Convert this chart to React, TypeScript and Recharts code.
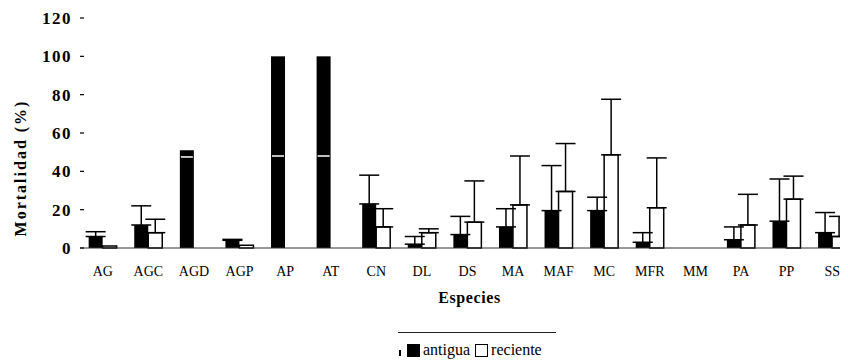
import React from "react";
import { BarChart, Bar, XAxis, YAxis, ErrorBar, Legend } from "recharts";

const especies = ["AG", "AGC", "AGD", "AGP", "AP", "AT", "CN", "DL", "DS", "MA", "MAF", "MC", "MFR", "MM", "PA", "PP", "SS"];
const antigua = [6, 12, 51, 4, 100, 100, 23, 2, 7, 11, 19.5, 19.5, 3, 0, 4.3, 14, 8];
const antiguaError = [2.5, 10, 0, 0.5, 0, 0, 15, 4, 9.5, 9.5, 23.5, 7, 5, 0, 6.7, 22, 10.5];
const reciente = [1, 8, 0, 1.5, 0, 0, 11, 8, 13.5, 22.5, 29.5, 48.6, 21, 0, 12, 25.5, 6];
const recienteError = [0, 7, 0, 0, 0, 0, 9.5, 2, 21.5, 25.5, 25, 29, 26, 0, 16, 12, 10.5];
// white line drawn across the tallest black bars
const antiguaCorte = [0, 0, 47.5, 0, 48, 48, 0, 0, 0, 0, 0, 0, 0, 0, 0, 0, 0];
const yTicks = [0, 20, 40, 60, 80, 100, 120];

const data = especies.map((name, i) => ({
  name,
  antigua: antigua[i],
  reciente: reciente[i],
  antiguaErr: antiguaError[i] ? [0, antiguaError[i]] : null,
  recienteErr: recienteError[i] ? [0, recienteError[i]] : null,
  corte: antiguaCorte[i],
}));

const serif = "Liberation Serif";

const AntiguaShape = (props: any) => {
  const { x, y, width, height, payload } = props;
  if (!height) return null;
  const cut = payload.corte ? y + height * (1 - payload.corte / payload.antigua) : null;
  return (
    <g>
      <rect x={x} y={y} width={width} height={height} fill="#000" />
      {cut !== null && <line x1={x + 1} x2={x + width - 1} y1={cut} y2={cut} stroke="#fff" strokeWidth={1.5} />}
    </g>
  );
};

const YTick = (props: any) => {
  const { x, y, payload } = props;
  return (
    <g>
      <text
        x={x}
        y={y}
        dy={6}
        textAnchor="end"
        style={{ fontSize: 17, fontWeight: "bold", letterSpacing: 1.5, fontFamily: serif }}
        fill="#000"
      >
        {payload.value}
      </text>
      <line x1={x + 8} x2={x + 12} y1={y} y2={y} stroke="#000" strokeWidth={1.2} />
    </g>
  );
};

const YLabel = (props: any) => {
  const vb = props.viewBox || { x: 8, y: 10, width: 64, height: 230 };
  const cx = vb.x + 4;
  const cy = vb.y + vb.height / 2 + 35;
  return (
    <text
      transform={`translate(${cx}, ${cy}) rotate(-90)`}
      textAnchor="middle"
      dominantBaseline="central"
      style={{ fontSize: 16, fontWeight: "bold", letterSpacing: 2, fontFamily: serif }}
      fill="#000"
    >
      Mortalidad (%)
    </text>
  );
};

const XLabel = (props: any) => {
  const vb = props.viewBox || { x: 72, y: 240, width: 775, height: 66 };
  return (
    <text
      x={vb.x + vb.width / 2 + 2}
      y={vb.y + 55}
      textAnchor="middle"
      style={{ fontSize: 16, fontWeight: "bold", letterSpacing: 0.6, fontFamily: serif }}
      fill="#000"
    >
      Especies
    </text>
  );
};

const LegendContent = (props: any) => {
  const items = props.payload || [];
  return (
    <div style={{ position: "relative", width: 860, height: 48, fontFamily: serif }}>
      <div style={{ position: "absolute", left: 390, top: 18, width: 158, height: 1, background: "#222" }} />
      <div style={{ position: "absolute", left: 391, top: 36, width: 1.5, height: 6, background: "#000" }} />
      <div
        style={{
          position: "absolute",
          left: 399,
          top: 27,
          display: "flex",
          alignItems: "center",
          fontSize: 16,
          fontFamily: serif,
          color: "#000",
        }}
      >
        {items.map((it: any, i: number) => (
          <span key={i} style={{ display: "flex", alignItems: "center", marginRight: 5 }}>
            <span
              style={{
                display: "inline-block",
                width: i === 0 ? 13 : 11,
                height: i === 0 ? 13 : 11,
                background: i === 0 ? "#000" : "#fff",
                border: i === 0 ? "none" : "1.5px solid #000",
                marginRight: 3,
              }}
            />
            {it.value}
          </span>
        ))}
      </div>
    </div>
  );
};

export default function App() {
  return (
    <div style={{ width: 840, height: 354, overflow: "hidden", fontFamily: serif }}>
      <BarChart
        width={860}
        height={354}
        data={data}
        margin={{ top: 10, right: 13, bottom: 48, left: 8 }}
        barCategoryGap="19%"
        barGap={0}
      >
        <XAxis
          dataKey="name"
          height={66}
          interval={0}
          tickLine={false}
          tickMargin={12}
          axisLine={{ stroke: "#333", strokeWidth: 1 }}
          tick={{ fontSize: 14, fontFamily: serif, fill: "#000" }}
          label={<XLabel />}
        />
        <YAxis
          width={64}
          domain={[0, 120]}
          ticks={yTicks}
          interval={0}
          axisLine={false}
          tickLine={false}
          tick={<YTick />}
          label={<YLabel />}
        />
        <Legend
          layout="horizontal"
          verticalAlign="middle"
          align="center"
          wrapperStyle={{ left: 0, top: 306, width: 860, height: 48 }}
          content={<LegendContent />}
        />
        <Bar dataKey="antigua" name="antigua" fill="#000" shape={<AntiguaShape />} isAnimationActive={false}>
          <ErrorBar dataKey="antiguaErr" width={10} stroke="#000" strokeWidth={1.5} direction="y" />
        </Bar>
        <Bar dataKey="reciente" name="reciente" fill="#fff" stroke="#000" strokeWidth={1.5} isAnimationActive={false}>
          <ErrorBar dataKey="recienteErr" width={10} stroke="#000" strokeWidth={1.5} direction="y" />
        </Bar>
      </BarChart>
    </div>
  );
}
